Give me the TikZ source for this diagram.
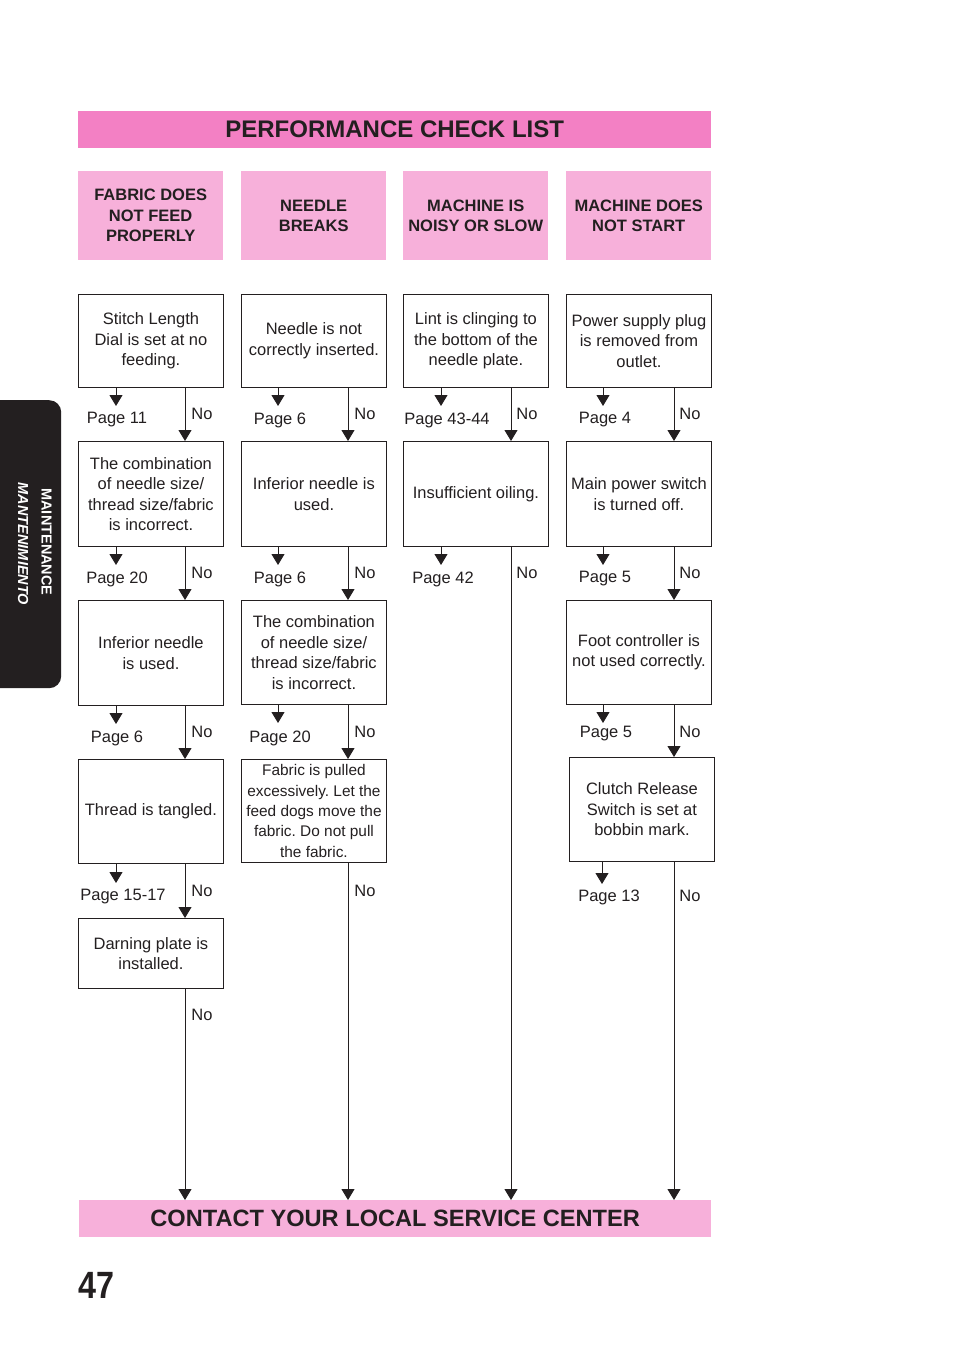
\documentclass[tikz,border=0pt]{standalone}
\usepackage{fontspec}
\setmainfont{Liberation Sans}
\usetikzlibrary{arrows.meta}
\definecolor{hot}{RGB}{243,128,196}
\definecolor{lite}{RGB}{247,176,218}
\definecolor{ink}{RGB}{35,31,32}
\frenchspacing
\begin{document}
\begin{tikzpicture}[x=1pt,y=-1pt,
 box/.style={draw=ink,line width=0.9pt,minimum width=145pt,align=center,inner sep=1pt,anchor=north west,text=ink,font=\fontsize{16.5}{20.5}\selectfont},
 head/.style={fill=lite,minimum width=145pt,minimum height=89pt,anchor=north west,align=center,inner sep=0pt,text=ink,font=\bfseries\fontsize{16.5}{20.5}\selectfont},
 bar/.style={minimum width=633pt,minimum height=37pt,anchor=north west,inner sep=0pt,text=ink,font=\bfseries\fontsize{24}{24}\selectfont},
 lbl/.style={text=ink,font=\fontsize{16.5}{20}\selectfont,inner sep=0pt},
 tabtxt/.style={text=white,rotate=-90,inner sep=0pt,font=\bfseries\fontsize{14.5}{14.5}\selectfont},
 arr/.style={draw=ink,line width=1pt,-{Triangle[width=13pt,length=11pt]}}]
\useasboundingbox (0,0) rectangle (954,1348);
% side tab
\node[fill=ink,rounded corners=12pt,minimum width=81pt,minimum height=288pt,anchor=north west,inner sep=0pt] (tab) at (-20,400) {};
\node[tabtxt] (tab1) at (46.5,542) {MAINTENANCE};
\node[tabtxt] (tab2) at (23,544) {\itshape MANTENIMIENTO};
% title and bottom bar
\node[bar,fill=hot] (title) at (78,111) {PERFORMANCE CHECK LIST};
\node[bar,fill=lite,minimum width=632pt,font=\bfseries\fontsize{23.6}{24}\selectfont] (contact) at (79,1200) {CONTACT YOUR LOCAL SERVICE CENTER};
% headers
\node[head] (h1) at (78,171) {FABRIC DOES\\NOT FEED\\PROPERLY};
\node[head] (h2) at (241,171) {NEEDLE\\BREAKS};
\node[head] (h3) at (403,171) {MACHINE IS\\NOISY OR SLOW};
\node[head] (h4) at (566,171) {MACHINE DOES\\NOT START};
% column 1
\node[box,minimum height=93pt] (a1) at (78,294) {Stitch Length\\Dial is set at no\\feeding.};
\node[box,minimum height=105pt] (a2) at (78,441) {The combination\\of needle size/\\thread size/fabric\\is incorrect.};
\node[box,minimum height=105pt] (a3) at (78,600) {Inferior needle\\is used.};
\node[box,minimum height=104pt] (a4) at (78,759) {Thread is tangled.};
\node[box,minimum height=70pt] (a5) at (78,918) {Darning plate is\\installed.};
% column 2
\node[box,minimum height=93pt] (b1) at (241,294) {Needle is not\\correctly inserted.};
\node[box,minimum height=105pt] (b2) at (241,441) {Inferior needle is\\used.};
\node[box,minimum height=104pt] (b3) at (241,600) {The combination\\of needle size/\\thread size/fabric\\is incorrect.};
\node[box,minimum height=103pt,font=\fontsize{15.4}{20.3}\selectfont] (b4) at (241,759) {Fabric is pulled\\excessively. Let the\\feed dogs move the\\fabric. Do not pull\\the fabric.};
% column 3
\node[box,minimum height=93pt] (c1) at (403,294) {Lint is clinging to\\the bottom of the\\needle plate.};
\node[box,minimum height=105pt] (c2) at (403,441) {Insufficient oiling.};
% column 4
\node[box,minimum height=93pt] (d1) at (566,294) {Power supply plug\\is removed from\\outlet.};
\node[box,minimum height=105pt] (d2) at (566,441) {Main power switch\\is turned off.};
\node[box,minimum height=104pt] (d3) at (566,600) {Foot controller is\\not used correctly.};
\node[box,minimum height=104pt] (d4) at (569,757) {Clutch Release\\Switch is set at\\bobbin mark.};
% page labels
\node[lbl] (pa1) at (117,420) {Page 11};
\node[lbl] (pa2) at (117,579) {Page 20};
\node[lbl] (pa3) at (117,738) {Page 6};
\node[lbl] (pa4) at (123,897) {Page 15-17};
\node[lbl] (pb1) at (280,420) {Page 6};
\node[lbl] (pb2) at (280,579) {Page 6};
\node[lbl] (pb3) at (280,738) {Page 20};
\node[lbl] (pc1) at (447,420) {Page 43-44};
\node[lbl] (pc2) at (443,579) {Page 42};
\node[lbl] (pd1) at (605,420) {Page 4};
\node[lbl] (pd2) at (605,579) {Page 5};
\node[lbl] (pd3) at (606,734) {Page 5};
\node[lbl] (pd4) at (609,897) {Page 13};
% No labels
\foreach \y [count=\i] in {414,573,732,891,1015} \node[lbl] (na\i) at (202,\y) {No};
\foreach \y [count=\i] in {414,573,732,891} \node[lbl] (nb\i) at (365,\y) {No};
\foreach \y [count=\i] in {414,573} \node[lbl] (nc\i) at (527,\y) {No};
\foreach \y [count=\i] in {414,573,732,896} \node[lbl] (nd\i) at (690,\y) {No};
% page arrow ends
\coordinate (ea1) at (116,406);
\coordinate (ea2) at (116,565);
\coordinate (ea3) at (116,724);
\coordinate (ea4) at (116,883);
\coordinate (eb1) at (278,406);
\coordinate (eb2) at (278,565);
\coordinate (eb3) at (278,723);
\coordinate (ec1) at (441,406);
\coordinate (ec2) at (441,565);
\coordinate (ed1) at (603,406);
\coordinate (ed2) at (603,565);
\coordinate (ed3) at (603,723);
\coordinate (ed4) at (602,884);
\foreach \n in {a1,a2,a3,a4,b1,b2,b3,c1,c2,d1,d2,d3,d4}
  \draw[arr] (\n.south -| e\n) -- (e\n);
% No lines
\coordinate (xa) at (185,0);
\coordinate (xb) at (348,0);
\coordinate (xc) at (511,0);
\coordinate (xd) at (674,0);
\draw[arr] (a1.south -| xa) -- (a2.north -| xa);
\draw[arr] (a2.south -| xa) -- (a3.north -| xa);
\draw[arr] (a3.south -| xa) -- (a4.north -| xa);
\draw[arr] (a4.south -| xa) -- (a5.north -| xa);
\draw[arr] (a5.south -| xa) -- (contact.north -| xa);
\draw[arr] (b1.south -| xb) -- (b2.north -| xb);
\draw[arr] (b2.south -| xb) -- (b3.north -| xb);
\draw[arr] (b3.south -| xb) -- (b4.north -| xb);
\draw[arr] (b4.south -| xb) -- (contact.north -| xb);
\draw[arr] (c1.south -| xc) -- (c2.north -| xc);
\draw[arr] (c2.south -| xc) -- (contact.north -| xc);
\draw[arr] (d1.south -| xd) -- (d2.north -| xd);
\draw[arr] (d2.south -| xd) -- (d3.north -| xd);
\draw[arr] (d3.south -| xd) -- (d4.north -| xd);
\draw[arr] (d4.south -| xd) -- (contact.north -| xd);
% page number
\node[anchor=base west,inner sep=0pt,text=ink,font=\bfseries\fontsize{38}{38}\selectfont] (pgnum) at (78,1298) {\scalebox{0.85}[1]{47}};
\end{tikzpicture}
\end{document}
